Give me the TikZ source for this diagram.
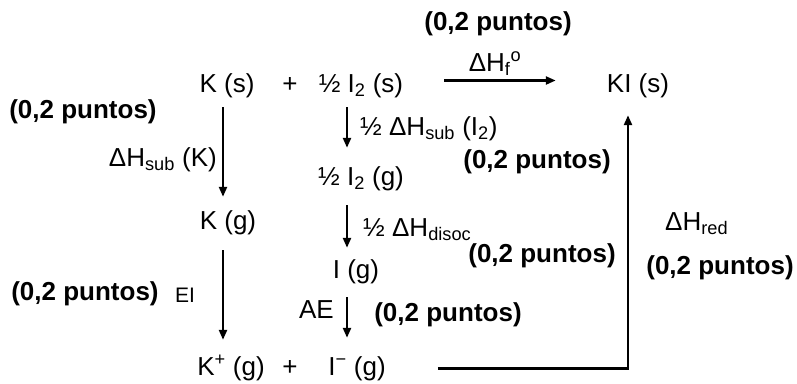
\documentclass[tikz,border=0pt]{standalone}
\usepackage{fontspec}
\setmainfont{Liberation Sans}
\usetikzlibrary{arrows.meta}

\tikzset{
  chem/.style={anchor=base, inner sep=0pt, text height=19pt, text depth=6pt,
    font=\fontsize{26}{30}\selectfont},
  lbl/.style={inner sep=0pt, font=\fontsize{26}{30}\selectfont},
  small lbl/.style={inner sep=0pt, font=\fontsize{21}{24}\selectfont},
  pts/.style={inner sep=0pt, font=\fontsize{26}{30}\selectfont\bfseries},
  arr/.style={-{Triangle[length=10pt,width=8pt]}, line width=2.3pt},
}

\begin{document}
\begin{tikzpicture}[x=1pt, y=-1pt]
  \useasboundingbox (0,0) rectangle (797,383);

  % species
  \node[chem] (ks)  at (227,92)  {K (s)};
  \node[chem] (pl1) at (290,92)  {+};
  \node[chem] (ihs) at (361,92)  {½ I\textsubscript{2} (s)};
  \node[chem] (kis) at (638,92)  {KI (s)};
  \node[chem] (ihg) at (361,185) {½ I\textsubscript{2} (g)};
  \node[chem] (kg)  at (228,229) {K (g)};
  \node[chem] (ig)  at (356,278) {I (g)};
  \node[chem] (kp)  at (231,375) {K\textsuperscript{+} (g)};
  \node[chem] (pl2) at (290,375) {+};
  \node[chem] (im)  at (357,375) {I\textsuperscript{−} (g)};

  % steps
  \draw[arr, shorten <=41pt, shorten >=51pt] ([yshift=5pt]ihs.east) -- ([yshift=5pt]kis.west);
  \draw[arr, shorten <=9pt, shorten >=13pt] ([xshift=-4pt]ks.south) -- ([xshift=-4pt]ks.south |- kg.north);
  \draw[arr, shorten <=15pt, shorten >=16pt] ([xshift=-5pt]kg.south) -- ([xshift=-5pt]kg.south |- kp.north);
  \draw[arr, shorten <=9pt, shorten >=18pt] ([xshift=-14pt]ihs.south) -- ([xshift=-14pt]ihs.south |- ihg.north);
  \draw[arr, shorten <=14pt, shorten >=11pt] ([xshift=-14pt]ihg.south) -- ([xshift=-14pt]ihg.south |- ig.north);
  \draw[arr, shorten <=13pt, shorten >=18pt] ([xshift=-9pt]ig.south) -- ([xshift=-9pt]ig.south |- im.north);
  \draw[arr, shorten <=52pt, shorten >=17pt] (im.east) -| ([xshift=-10pt]kis.south);

  % enthalpies
  \node[lbl, anchor=base] (hf) at (495,71) {ΔH\textsubscript{f}\textsuperscript{o}};
  \node[lbl, anchor=base east] (hsubk) at (217,166) {ΔH\textsubscript{sub} (K)};
  \node[lbl, anchor=base west] (hsubi) at (360,135) {½ ΔH\textsubscript{sub} (I\textsubscript{2})};
  \node[lbl, anchor=base west] (hdis) at (363,236) {½ ΔH\textsubscript{disoc}};
  \node[small lbl, anchor=base west] (ei) at (175,302) {EI};
  \node[lbl, anchor=base east] (ae) at (334,318) {AE};
  \node[lbl, anchor=base west] (hred) at (665,230) {ΔH\textsubscript{red}};

  % marks
  \node[pts] (p1) at (498,24)  {(0,2 puntos)};
  \node[pts] (p2) at (83,112)  {(0,2 puntos)};
  \node[pts] (p3) at (537,162) {(0,2 puntos)};
  \node[pts] (p4) at (542,256) {(0,2 puntos)};
  \node[pts] (p5) at (720,268) {(0,2 puntos)};
  \node[pts] (p6) at (85,294)  {(0,2 puntos)};
  \node[pts] (p7) at (448,315) {(0,2 puntos)};
\end{tikzpicture}
\end{document}
